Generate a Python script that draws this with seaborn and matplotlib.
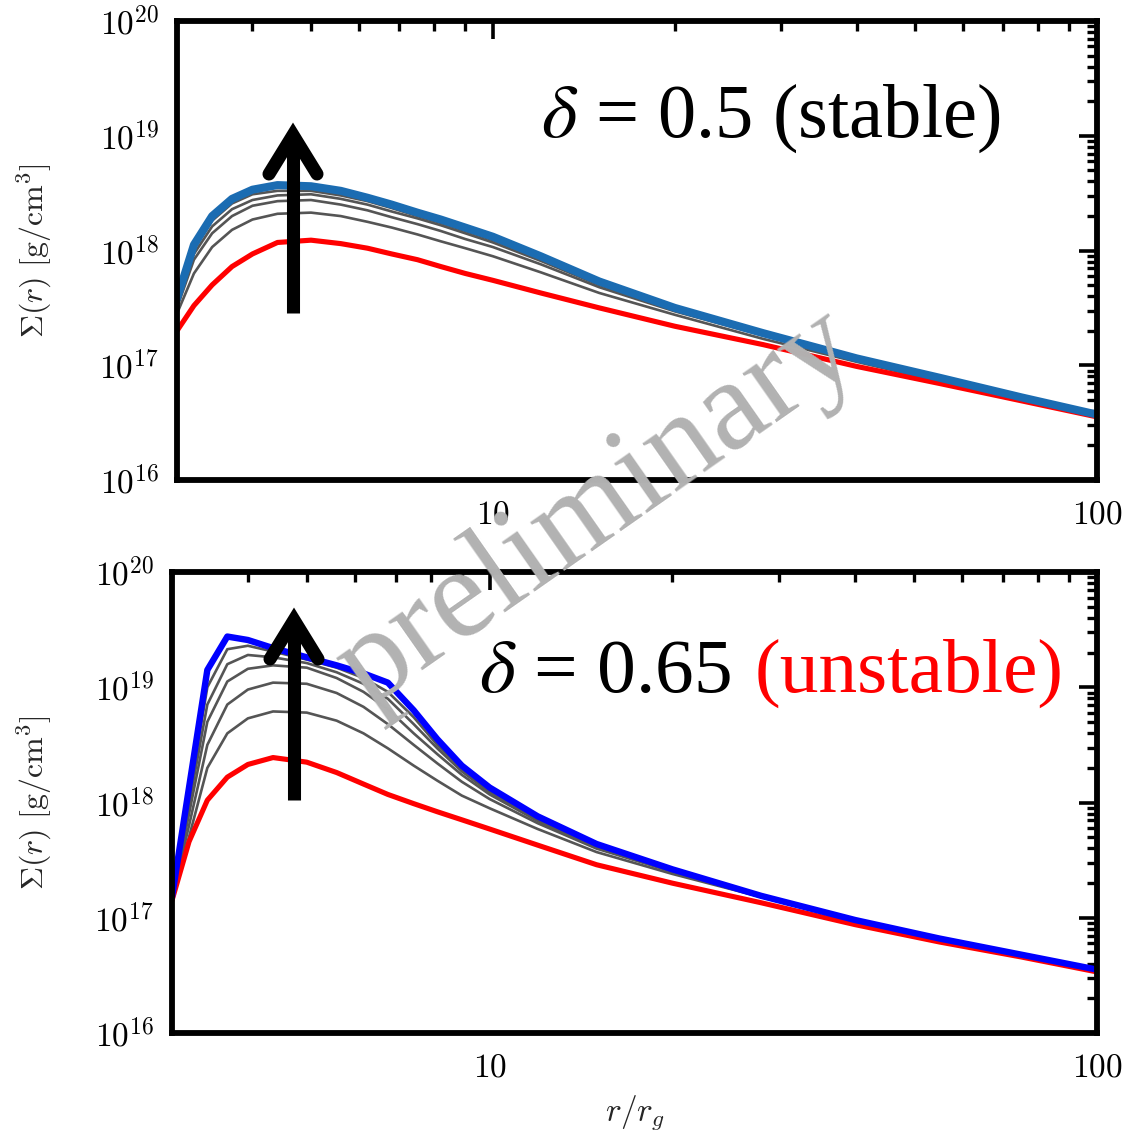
import numpy as np
import pandas as pd
import matplotlib
matplotlib.use("Agg")
import matplotlib.pyplot as plt
import seaborn as sns
from matplotlib.ticker import FuncFormatter, NullFormatter, LogLocator
from matplotlib.lines import Line2D

# ---------------- data (log10 of Sigma [g/cm^3]) ----------------
r_grid = [3.0, 3.2, 3.43, 3.7, 4.0, 4.4, 5.0, 5.6, 6.2, 6.8, 7.5, 8.2, 9.0,
          10, 12, 15, 20, 28, 40, 55, 75, 100]

# delta = 0.5 (stable)
top_initial = [17.30, 17.52, 17.70, 17.86, 17.97, 18.07, 18.09, 18.06, 18.02, 17.97, 17.92,
               17.86, 17.80, 17.74, 17.63, 17.50, 17.34, 17.18, 16.99, 16.84, 16.69, 16.55]
top_mid_1 = [17.45, 17.80, 18.03, 18.18, 18.27, 18.32, 18.33, 18.30, 18.25, 18.20, 18.14,
             18.08, 18.02, 17.95, 17.81, 17.63, 17.44, 17.23, 17.03, 16.86, 16.71, 16.57]
top_mid_2 = [17.50, 17.92, 18.15, 18.30, 18.39, 18.43, 18.44, 18.40, 18.35, 18.29, 18.23,
             18.17, 18.10, 18.03, 17.88, 17.68, 17.47, 17.26, 17.05, 16.88, 16.72, 16.57]
top_mid_3 = [17.53, 17.97, 18.21, 18.36, 18.44, 18.48, 18.49, 18.45, 18.40, 18.34, 18.28,
             18.22, 18.15, 18.07, 17.91, 17.70, 17.48, 17.27, 17.05, 16.88, 16.72, 16.57]
top_mid_4 = [17.56, 18.01, 18.26, 18.41, 18.49, 18.52, 18.52, 18.48, 18.43, 18.37, 18.30,
             18.24, 18.17, 18.09, 17.93, 17.71, 17.49, 17.27, 17.05, 16.88, 16.72, 16.57]
top_final = [17.58, 18.05, 18.30, 18.45, 18.53, 18.57, 18.56, 18.52, 18.46, 18.40, 18.33,
             18.27, 18.20, 18.12, 17.95, 17.73, 17.50, 17.28, 17.06, 16.89, 16.72, 16.57]

# delta = 0.65 (unstable)
bot_initial = [17.15, 17.66, 18.02, 18.22, 18.33, 18.39, 18.35, 18.26, 18.16, 18.07, 17.99,
               17.92, 17.85, 17.77, 17.63, 17.46, 17.30, 17.13, 16.94, 16.79, 16.66, 16.53]
bot_mid_1 = [17.17, 17.70, 18.30, 18.60, 18.73, 18.79, 18.78, 18.71, 18.60, 18.47, 18.32,
             18.19, 18.06, 17.95, 17.77, 17.57, 17.38, 17.18, 16.97, 16.81, 16.67, 16.55]
bot_mid_2 = [17.17, 17.80, 18.50, 18.85, 18.98, 19.04, 19.03, 18.95, 18.83, 18.68, 18.50,
             18.34, 18.18, 18.03, 17.82, 17.60, 17.40, 17.18, 16.97, 16.81, 16.67, 16.55]
bot_mid_3 = [17.17, 17.90, 18.70, 19.05, 19.16, 19.19, 19.17, 19.08, 18.96, 18.81, 18.60,
             18.42, 18.24, 18.07, 17.84, 17.61, 17.40, 17.18, 16.97, 16.81, 16.67, 16.55]
bot_mid_4 = [17.17, 17.98, 18.85, 19.20, 19.28, 19.26, 19.21, 19.13, 19.03, 18.90, 18.68,
             18.47, 18.27, 18.09, 17.85, 17.62, 17.41, 17.18, 16.97, 16.81, 16.67, 16.55]
bot_mid_5 = [17.17, 18.05, 19.00, 19.33, 19.36, 19.31, 19.24, 19.17, 19.08, 18.96, 18.74,
             18.50, 18.29, 18.11, 17.86, 17.62, 17.41, 17.18, 16.97, 16.81, 16.67, 16.55]
bot_final = [17.18, 18.13, 19.15, 19.44, 19.41, 19.34, 19.26, 19.19, 19.12, 19.04, 18.80,
             18.55, 18.32, 18.13, 17.88, 17.64, 17.42, 17.19, 16.98, 16.82, 16.68, 16.55]

x_ticklabels = {10: "10", 100: "100"}
top_title = r"$\delta$ = 0.5 (stable)"
bot_title_main = r"$\delta$ = 0.65"
bot_title_red = "(unstable)"
ylabel = r"$\Sigma(r)\ [\mathrm{g/cm^3}]$"
xlabel = r"$r/r_g$"
watermark = "preliminary"

# ---------------- style ----------------
sns.set_style("white")
plt.rcParams["font.family"] = ["DejaVu Serif"]
plt.rcParams["mathtext.fontset"] = "cm"

W, H = 1122, 1133
fig = plt.figure(figsize=(W / 100, H / 100), dpi=100)

def rect(l, t, r, b):
    return [l / W, 1 - b / H, (r - l) / W, (b - t) / H]

ax_top = fig.add_axes(rect(177, 21, 1097, 480))
ax_bot = fig.add_axes(rect(172, 572, 1097, 1033))

GRAY = "#555555"
RED = "#ff0000"

def draw(ax, mids, initial, final, final_color, final_lw):
    df = pd.DataFrame({"r": r_grid})
    for m in mids:
        sns.lineplot(x=df["r"], y=10.0 ** np.array(m), ax=ax, color=GRAY, lw=1.9,
                     estimator=None, sort=False)
    sns.lineplot(x=df["r"], y=10.0 ** np.array(initial), ax=ax, color=RED, lw=3.7,
                 estimator=None, sort=False)
    sns.lineplot(x=df["r"], y=10.0 ** np.array(final), ax=ax, color=final_color,
                 lw=final_lw, estimator=None, sort=False)

draw(ax_top, [top_mid_1, top_mid_2, top_mid_3, top_mid_4], top_initial, top_final,
     "#1b6cb2", 5.8)
draw(ax_bot, [bot_mid_1, bot_mid_2, bot_mid_3, bot_mid_4, bot_mid_5], bot_initial,
     bot_final, "#0000ff", 4.6)

xfmt = FuncFormatter(lambda v, p: r"$%s$" % x_ticklabels[int(round(v))]
                     if int(round(v)) in x_ticklabels else "")
yfmt = FuncFormatter(lambda v, p: r"$10^{%d}$" % int(round(np.log10(v))))

for ax in (ax_top, ax_bot):
    ax.set_xscale("log")
    ax.set_yscale("log")
    ax.set_xlim(3, 100)
    ax.set_ylim(1e16, 1e20)
    ax.xaxis.set_major_locator(LogLocator(base=10))
    ax.xaxis.set_minor_locator(LogLocator(base=10, subs=np.arange(2, 10)))
    ax.yaxis.set_major_locator(LogLocator(base=10))
    ax.yaxis.set_minor_locator(LogLocator(base=10, subs=np.arange(2, 10), numticks=20))
    ax.xaxis.set_major_formatter(xfmt)
    ax.yaxis.set_major_formatter(yfmt)
    ax.xaxis.set_minor_formatter(NullFormatter())
    ax.yaxis.set_minor_formatter(NullFormatter())
    ax.tick_params(which="both", direction="in", top=True, right=True, colors="black")
    ax.tick_params(which="major", length=13, width=2.6, labelsize=24, pad=13)
    ax.tick_params(which="minor", length=7, width=2.4)
    for s in ax.spines.values():
        s.set_linewidth(4.2)
        s.set_color("black")
    ax.set_xlabel("")
    ax.set_ylabel(ylabel, fontsize=23)
    ax.grid(False)

ax_top.yaxis.set_label_coords((54 - 177) / 920, 0.5)
ax_bot.yaxis.set_label_coords((54 - 172) / 925, 0.5)
ax_bot.set_xlabel(xlabel, fontsize=24)
ax_bot.xaxis.set_label_coords(0.5, (1033 - 1093) / 461)

# ---------------- annotations ----------------
def fx(px):
    return px / W

def fy(py):
    return 1 - py / H

def arrow(x, y_tail, y_tip):
    lw = 9.4
    fig.add_artist(Line2D([fx(x), fx(x)], [fy(y_tail), fy(y_tip + 12)], color="black",
                          lw=lw, solid_capstyle="butt", transform=fig.transFigure))
    fig.add_artist(Line2D([fx(x - 24), fx(x), fx(x + 24)],
                          [fy(y_tip + 52), fy(y_tip + 13), fy(y_tip + 52)],
                          color="black", lw=lw, solid_capstyle="round",
                          solid_joinstyle="miter", transform=fig.transFigure))

arrow(293, 313, 122)
arrow(294, 800, 607)

FONT = ["Liberation Serif", "DejaVu Serif"]
renderer = fig.canvas.get_renderer()

def fit_width(t, target):
    for _ in range(3):
        w = t.get_window_extent(renderer).width
        t.set_fontsize(t.get_fontsize() * target / w)

t_top = fig.text(fx(541), fy(137), top_title, fontsize=52, family=FONT,
                 math_fontfamily="stix", ha="left", va="baseline", color="black")
fit_width(t_top, 1000 - 541)

t_b1 = fig.text(fx(479), fy(692), bot_title_main, fontsize=52, family=FONT,
                math_fontfamily="stix", ha="left", va="baseline", color="black")
t_b2 = fig.text(fx(740), fy(692), bot_title_red, fontsize=52, family=FONT,
                ha="left", va="baseline", color=RED)
for _ in range(3):
    w1 = t_b1.get_window_extent(renderer).width
    w2 = t_b2.get_window_extent(renderer).width
    gap = 0.3 * t_b1.get_fontsize() * 100 / 72
    total = w1 + gap + w2
    s = (1063 - 479) / total
    t_b1.set_fontsize(t_b1.get_fontsize() * s)
    t_b2.set_fontsize(t_b2.get_fontsize() * s)
w1 = t_b1.get_window_extent(renderer).width
gap = 0.3 * t_b1.get_fontsize() * 100 / 72
t_b2.set_position((fx(479 + w1 + gap), fy(692)))

wm = fig.text(fx(598), fy(508), watermark, fontsize=60, family=FONT, color="#b2b2b2",
              ha="center", va="center", rotation=0, rotation_mode="anchor", zorder=10)
fit_width(wm, 605)
wm.set_rotation(35)

fig.savefig("out.png", dpi=100)
